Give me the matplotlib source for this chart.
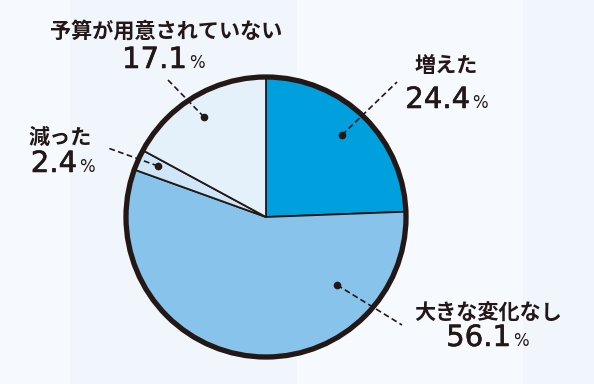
import matplotlib
matplotlib.use("Agg")
import matplotlib.pyplot as plt
import matplotlib.patheffects as pe
from matplotlib.patches import Rectangle, Circle

# data: clockwise from 12 o'clock
labels = ["増えた", "大きな変化なし", "減った", "予算が用意されていない"]
values = [24.4, 56.1, 2.4, 17.1]
colors = ["#00A0DE", "#88C3EB", "#CFE6F8", "#E4F1FB"]

# label layout in pixel coords (y down): label centre, number right edge / baseline, leader line
label_xy = [(446, 66), (488, 313), (60, 137), (166, 31)]
num_xy = [(470, 108), (511, 346), (77, 172), (187, 68)]
leader = [((342, 135), (397, 82)), ((337, 285), (402, 325)),
          ((158, 166), (108, 148)), ((204, 117), (168, 80))]

ink = "#231815"
W, H = 594, 384
cx, cy, r = 266, 217, 140


def fy(y):
    return H - y


fig = plt.figure(figsize=(W / 100, H / 100), dpi=100)
ax = fig.add_axes([0, 0, 1, 1])

# background bands
for x0, x1, c in [(0, 70, "#F6FAFE"), (70, 297, "#F0F6FB"), (297, 523, "#F6FAFE"), (523, W, "#F0F6FB")]:
    ax.add_patch(Rectangle((x0, 0), x1 - x0, H, facecolor=c, edgecolor="none", zorder=0))

wedges, _ = ax.pie(values, colors=colors, startangle=90, counterclock=False,
                   center=(cx, fy(cy)), radius=r, frame=True,
                   wedgeprops=dict(edgecolor=ink, linewidth=1.3))
for w in wedges:
    w.set_zorder(2)
ax.add_patch(Circle((cx, fy(cy)), r, facecolor="none", edgecolor=ink, linewidth=3.8, zorder=3))

jp = ["Noto Sans CJK JP", "DejaVu Sans"]
thick = [pe.withStroke(linewidth=0.4, foreground=ink)]
for lab, val, (lx, ly), (nx, ny), (p0, p1) in zip(labels, values, label_xy, num_xy, leader):
    ax.text(lx, fy(ly), lab, family=jp, fontsize=15.2, weight="bold", color=ink,
            ha="center", va="center", zorder=5)
    ax.text(nx, fy(ny), f"{val:.1f}", family="DejaVu Sans", fontsize=21, color=ink,
            ha="right", va="baseline", zorder=5, path_effects=thick)
    ax.text(nx + 2, fy(ny), "%", family="DejaVu Sans", fontsize=12, color=ink,
            ha="left", va="baseline", zorder=5)
    ax.plot([p0[0], p1[0]], [fy(p0[1]), fy(p1[1])], color=ink, lw=1.2,
            linestyle=(0, (3.5, 2)), zorder=4)
    ax.plot(p0[0], fy(p0[1]), "o", color=ink, markersize=4.5, zorder=4)

ax.set_xlim(0, W)
ax.set_ylim(0, H)
ax.set_aspect("auto")
ax.axis("off")

fig.savefig("out.png", dpi=100)
